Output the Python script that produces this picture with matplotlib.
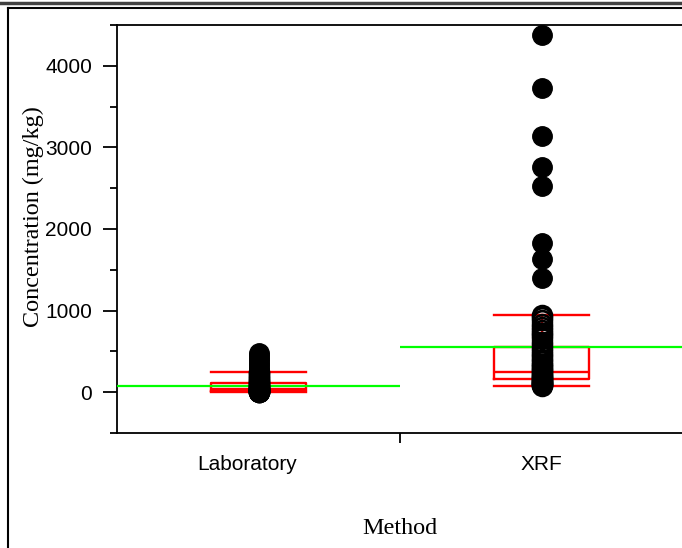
import matplotlib
matplotlib.use("Agg")
import matplotlib.pyplot as plt
from matplotlib.lines import Line2D
from matplotlib.ticker import MultipleLocator
from matplotlib.transforms import ScaledTranslation

categories = ["Laboratory", "XRF"]

# quantile box values (mg/kg)
q1 = [15, 162]
median = [45, 251]
q3 = [113, 556]
whisker_low = [0, 80]
whisker_high = [248, 946]
means = [80, 556]

# individual samples
lab_inner = [0, 2, 5, 8, 10, 12, 15, 18, 20, 25, 28, 30, 35, 40, 45, 50, 55, 60,
             70, 80, 90, 100, 110, 120, 135, 150, 170, 190, 210, 230, 245]
lab_outer = [270, 300, 330, 360, 390, 420, 450, 480]
xrf_inner = [80, 85, 90, 95, 100, 110, 120, 130, 140, 150, 160, 170, 185, 200,
             215, 230, 250, 270, 290, 310, 330, 350, 380, 410, 440, 470, 500,
             540, 580, 620, 660, 700, 730, 760, 800, 840, 880, 920, 950]
xrf_outer = [1399, 1632, 1828, 2527, 2760, 3140, 3728, 4377]

inner = [lab_inner, xrf_inner]
outer = [lab_outer, xrf_outer]

fig = plt.figure(figsize=(6.82, 5.48), dpi=100)
ax = fig.add_axes([117/682, 1-433/548, 566/682, 408/548])

red = "#ff0000"
green = "#00ff00"

stats = []
for i in range(len(categories)):
    stats.append({"q1": q1[i], "med": median[i], "q3": q3[i],
                  "whislo": whisker_low[i], "whishi": whisker_high[i],
                  "fliers": []})
ax.bxp(stats, positions=range(len(categories)), widths=1/3,
       boxprops=dict(color=red, lw=1.7),
       medianprops=dict(color=red, lw=1.7),
       whiskerprops=dict(color=red, lw=1.7),
       capprops=dict(color=red, lw=1.7),
       capwidths=1/3, showfliers=False, manage_ticks=False)

for i, m in enumerate(means):
    ax.hlines(m, i - 0.5, i + 0.5, color=green, lw=1.6, zorder=3)

for i in range(len(categories)):
    ax.plot([i]*len(inner[i]), inner[i], "o", ms=13.5, mfc="none", mec="black",
            mew=2, zorder=4)
    ax.plot([i]*len(outer[i]), outer[i], "o", ms=14, mfc="black", mec="black",
            mew=1, zorder=4)

ax.set_xlim(-0.5, 1.5)
ax.set_ylim(-500, 4500)

ax.set_xticks(range(len(categories)))
ax.set_xticklabels(categories, family="Liberation Sans", fontsize=15)
ax.set_xticks([0.5], minor=True)
ax.tick_params(axis="x", which="major", length=0, pad=16)
ax.tick_params(axis="x", which="minor", length=7, width=1.3, direction="out")
# the first label sits a little left of its group in the original
lab0 = ax.get_xticklabels()[0]
lab0.set_transform(lab0.get_transform() + ScaledTranslation(-0.11, 0, fig.dpi_scale_trans))

ax.yaxis.set_major_locator(MultipleLocator(1000))
ax.yaxis.set_minor_locator(MultipleLocator(500))
ax.tick_params(axis="y", which="major", length=10, width=1.3, pad=8, labelsize=15)
ax.tick_params(axis="y", which="minor", length=5, width=1.3)
for lab in ax.get_yticklabels():
    lab.set_family("Liberation Sans")

ax.spines["right"].set_visible(False)
for s in ["top", "left", "bottom"]:
    ax.spines[s].set_linewidth(1.3)

fig.text(33/682, 1-217/548, "Concentration (mg/kg)", rotation=90, ha="center",
         va="center", family="Liberation Serif", fontsize=17.4)
fig.text(400/682, 1-528/548, "Method", ha="center", va="center",
         family="Liberation Serif", fontsize=17.4)

# outer frame
fig.add_artist(Line2D([0, 1], [1-2.5/548, 1-2.5/548], color="#404040", lw=2.5))
fig.add_artist(Line2D([7.5/682, 1], [1-7.5/548, 1-7.5/548], color="black", lw=1.5))
fig.add_artist(Line2D([7.5/682, 7.5/682], [0, 1-7.5/548], color="black", lw=1.5))

fig.savefig("out.png", dpi=100)
